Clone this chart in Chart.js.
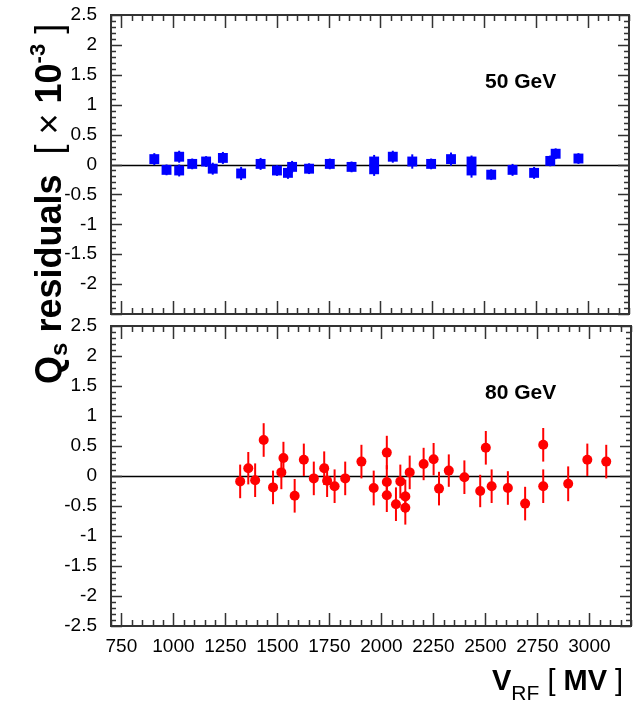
<!DOCTYPE html>
<html>
<head>
<meta charset="utf-8">
<script src="https://cdn.jsdelivr.net/npm/chart.js@4.4.1/dist/chart.umd.min.js"></script>
<style>
  html, body { margin: 0; padding: 0; background: #fff; }
  #wrap { position: relative; width: 636px; height: 710px; overflow: hidden;
          font-family: "Liberation Sans", Arial, sans-serif; color: #000; }
  canvas { position: absolute; left: 0; }
  #cTop { top: 0; }
  #cBot { top: 300px; }
  .label { position: absolute; white-space: nowrap; }
  .energy { font-size: 21px; font-weight: bold; line-height: 21px; }
  #ytitle { left: 20px; top: 384px; font-size: 36px; line-height: 36px;
            transform-origin: 0 0; transform: rotate(-90deg); }
  #ytitle sub { font-size: 24px; vertical-align: -6px; }
  #ytitle sup { font-size: 22px; vertical-align: 16px; }
  #xtitle { left: 492px; top: 666px; font-size: 29px; line-height: 29px; }
  #xtitle sub { font-size: 21px; vertical-align: -10px; }
  .thin { font-weight: normal; }
</style>
</head>
<body>
<div id="wrap">
  <canvas id="cTop" width="636" height="330"></canvas>
  <canvas id="cBot" width="636" height="410"></canvas>
  <div class="label energy" style="left:485px; top:70px;">50 GeV</div>
  <div class="label energy" style="left:485px; top:381px;">80 GeV</div>
  <div class="label" id="ytitle"><b>Q<sub>s</sub> residuals</b> <span class="thin">&nbsp;[ &times;</span> <b>10<sup>-3</sup></b> <span class="thin">]</span></div>
  <div class="label" id="xtitle"><b>V</b><sub>RF</sub> <span class="thin">[</span> <b>MV</b> <span class="thin">]</span></div>
</div>
<script>
// 50 GeV beam: RF voltage [MV], residual [1e-3], error
const vrf50 = [909, 968, 1029, 1029, 1092, 1159, 1191, 1240, 1328, 1422, 1501, 1554, 1574, 1656, 1756,
               1861, 1970, 1970, 2060, 2154, 2245, 2341, 2440, 2440, 2535, 2638, 2742, 2820, 2846, 2956];
const res50 = [0.09, -0.09, 0.13, -0.10, 0.01, 0.05, -0.07, 0.11, -0.15, 0.01, -0.10, -0.14, -0.04, -0.07, 0.01,
               -0.04, 0.05, -0.08, 0.13, 0.05, 0.01, 0.09, 0.05, -0.10, -0.17, -0.09, -0.14, 0.06, 0.18, 0.10];
const err50 = [0.10, 0.09, 0.10, 0.10, 0.09, 0.09, 0.10, 0.10, 0.11, 0.10, 0.09, 0.10, 0.10, 0.09, 0.09,
               0.09, 0.11, 0.11, 0.10, 0.12, 0.09, 0.11, 0.10, 0.12, 0.09, 0.10, 0.10, 0.09, 0.09, 0.09];

// 80 GeV beam
const vrf80 = [1321, 1360, 1393, 1434, 1479, 1519, 1529, 1583, 1627, 1675, 1725, 1739, 1775, 1826, 1904,
               1963, 2026, 2026, 2026, 2070, 2091, 2115, 2115, 2136, 2203, 2251, 2277, 2324, 2399, 2475,
               2502, 2530, 2608, 2691, 2778, 2778, 2898, 2990, 3081];
const res80 = [-0.09, 0.13, -0.07, 0.60, -0.19, 0.06, 0.30, -0.33, 0.27, -0.04, 0.13, -0.08, -0.17, -0.04, 0.24,
               -0.20, 0.39, -0.10, -0.32, -0.47, -0.09, -0.34, -0.53, 0.06, 0.20, 0.28, -0.21, 0.09, -0.02, -0.25,
               0.47, -0.17, -0.20, -0.46, 0.52, -0.17, -0.13, 0.27, 0.24];
const err80 = [0.28, 0.27, 0.28, 0.28, 0.28, 0.28, 0.27, 0.28, 0.27, 0.28, 0.28, 0.27, 0.28, 0.28, 0.28,
               0.29, 0.28, 0.28, 0.28, 0.28, 0.28, 0.28, 0.28, 0.28, 0.27, 0.27, 0.28, 0.27, 0.28, 0.27,
               0.28, 0.28, 0.28, 0.28, 0.28, 0.28, 0.29, 0.27, 0.28];

// axis ranges and ticks
const xRange = [700, 3200];
const xLabels = [750, 1000, 1250, 1500, 1750, 2000, 2250, 2500, 2750, 3000];
const yRange = [-2.5, 2.5];
const yLabels = [-2.5, -2, -1.5, -1, -0.5, 0, 0.5, 1, 1.5, 2, 2.5];

const tickFont = { family: 'Liberation Sans', size: 19 };

// frame, inward tick marks, zero line and error bars (ROOT-like look)
const panelDeco = {
  id: 'panelDeco',
  beforeDatasetsDraw(chart) {
    const { ctx, chartArea: a, scales: { x, y } } = chart;
    const errs = chart.options.plugins.panelDeco.errors;
    const colour = chart.options.plugins.panelDeco.colour;
    ctx.save();
    // zero line
    ctx.strokeStyle = '#000';
    ctx.lineWidth = 1.3;
    const y0 = Math.round(y.getPixelForValue(0)) + 0.5;
    ctx.beginPath();
    ctx.moveTo(a.left, y0);
    ctx.lineTo(a.right, y0);
    ctx.stroke();
    // error bars
    ctx.strokeStyle = colour;
    ctx.lineWidth = 2;
    const meta = chart.getDatasetMeta(0);
    chart.data.datasets[0].data.forEach((p, i) => {
      const px = meta.data[i].x;
      ctx.beginPath();
      ctx.moveTo(px, y.getPixelForValue(p.y + errs[i]));
      ctx.lineTo(px, y.getPixelForValue(p.y - errs[i]));
      ctx.stroke();
    });
    ctx.restore();
  },
  afterDraw(chart) {
    const { ctx, chartArea: a, scales: { x, y } } = chart;
    ctx.save();
    ctx.strokeStyle = '#333';
    ctx.lineWidth = 1.5;
    ctx.beginPath();
    for (let v = xRange[0]; v <= xRange[1]; v += 50) {
      const px = Math.round(x.getPixelForValue(v)) + 0.5;
      const len = xLabels.includes(v) ? 13 : 6;
      ctx.moveTo(px, a.bottom); ctx.lineTo(px, a.bottom - len);
      ctx.moveTo(px, a.top); ctx.lineTo(px, a.top + len);
    }
    for (let k = -25; k <= 25; k++) {
      const py = Math.round(y.getPixelForValue(k / 10)) + 0.5;
      const len = k % 5 === 0 ? 11 : 5;
      ctx.moveTo(a.left, py); ctx.lineTo(a.left + len, py);
      ctx.moveTo(a.right, py); ctx.lineTo(a.right - len, py);
    }
    ctx.stroke();
    ctx.lineWidth = 2;
    ctx.strokeRect(a.left, a.top, a.right - a.left, a.bottom - a.top);
    ctx.restore();
  }
};

function makePanel(canvasId, xs, ys, errs, colour, style, radius, showX, hideBottomLabel, pad) {
  const points = xs.map((v, i) => ({ x: v, y: ys[i] }));
  return new Chart(document.getElementById(canvasId), {
    type: 'scatter',
    data: {
      datasets: [{
        data: points,
        pointStyle: style,
        pointRadius: radius,
        pointBackgroundColor: colour,
        pointBorderWidth: 0,
        borderColor: colour
      }]
    },
    options: {
      responsive: false,
      animation: false,
      events: [],
      layout: { padding: pad },
      plugins: {
        legend: { display: false },
        tooltip: { enabled: false },
        panelDeco: { errors: errs, colour: colour }
      },
      scales: {
        x: {
          type: 'linear',
          display: showX,
          min: xRange[0],
          max: xRange[1],
          grid: { display: false, drawTicks: false },
          border: { display: false },
          ticks: {
            stepSize: 50,
            autoSkip: false,
            maxRotation: 0,
            padding: 9,
            color: '#000',
            font: tickFont,
            callback: (v) => xLabels.includes(v) ? String(v) : ''
          },
          afterFit: (s) => {
            s.height = showX ? 84 : 0;
            s.paddingLeft = 0;
            s.paddingRight = 0;
          }
        },
        y: {
          type: 'linear',
          min: yRange[0],
          max: yRange[1],
          grid: { display: false, drawTicks: false },
          border: { display: false },
          ticks: {
            stepSize: 0.1,
            autoSkip: false,
            padding: 14,
            color: '#000',
            font: tickFont,
            callback: (v) => {
              const r = Math.round(v * 10) / 10;
              if (!yLabels.includes(r)) return '';
              if (hideBottomLabel && r === yRange[0]) return '';
              return String(r);
            }
          },
          afterFit: (s) => { s.width = 111; s.paddingTop = 0; s.paddingBottom = 0; }
        }
      }
    },
    plugins: [panelDeco]
  });
}

makePanel('cTop', vrf50, res50, err50, '#0000ff', 'rect', 7, false, true,
          { top: 15, bottom: 16, left: 0, right: 2 });
makePanel('cBot', vrf80, res80, err80, '#ff0000', 'circle', 5, true, false,
          { top: 26, bottom: 0, left: 0, right: 2 });
</script>
</body>
</html>
